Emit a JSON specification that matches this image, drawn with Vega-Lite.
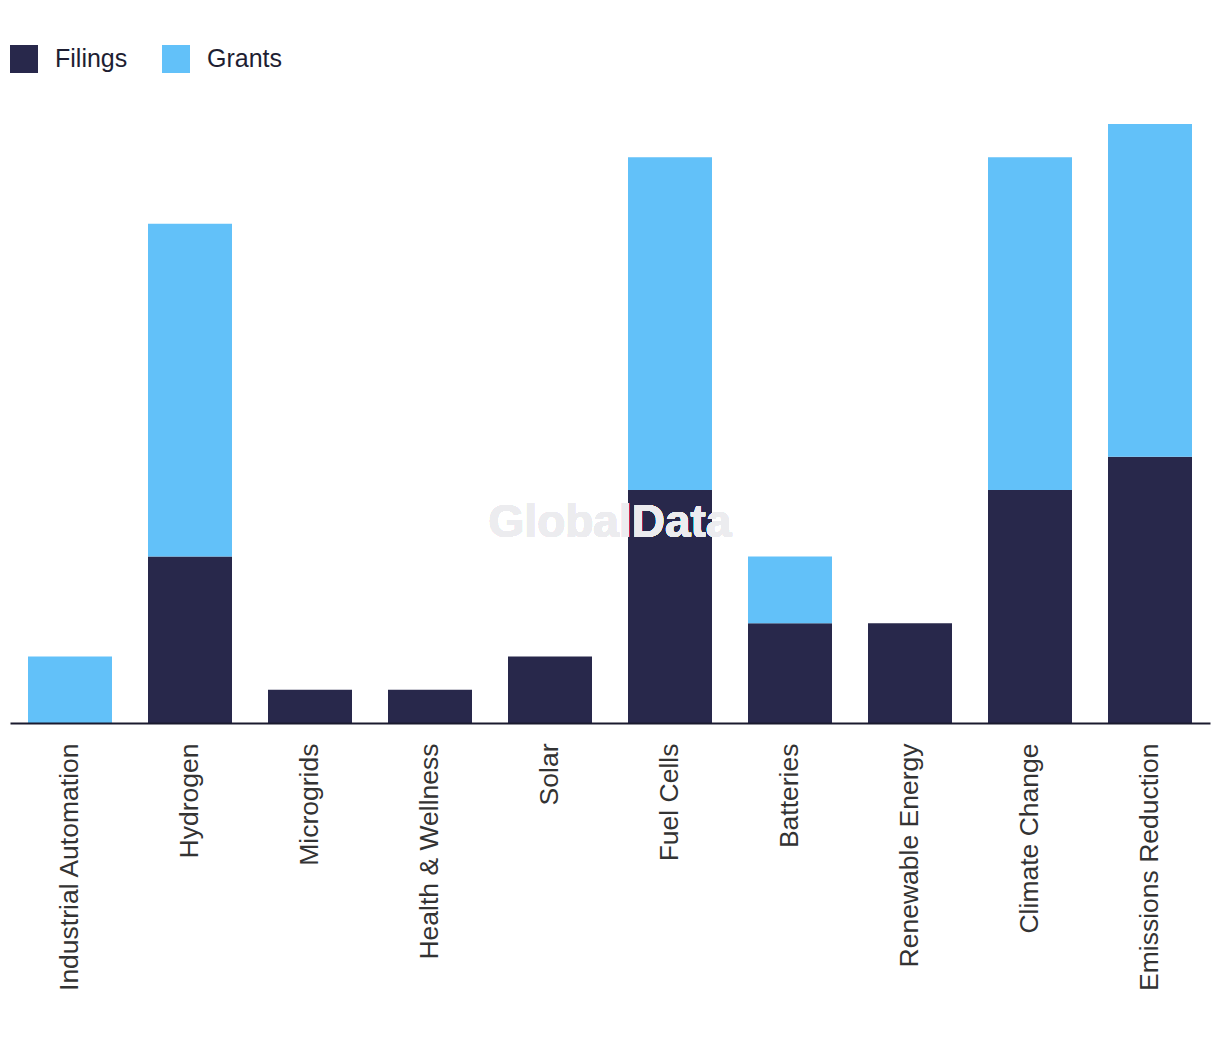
{
  "$schema": "https://vega.github.io/schema/vega-lite/v6.json",
  "width": 1200,
  "height": 599,
  "autosize": {"type": "none"},
  "padding": {"left": 10, "top": 124, "right": 10, "bottom": 319},
  "background": "white",
  "config": {
    "view": {"stroke": null},
    "font": "Liberation Sans"
  },
  "data": {
    "values": [
      {"category": "Industrial Automation", "type": "Filings", "value": 0},
      {"category": "Industrial Automation", "type": "Grants", "value": 2},
      {"category": "Hydrogen", "type": "Filings", "value": 5},
      {"category": "Hydrogen", "type": "Grants", "value": 10},
      {"category": "Microgrids", "type": "Filings", "value": 1},
      {"category": "Microgrids", "type": "Grants", "value": 0},
      {"category": "Health & Wellness", "type": "Filings", "value": 1},
      {"category": "Health & Wellness", "type": "Grants", "value": 0},
      {"category": "Solar", "type": "Filings", "value": 2},
      {"category": "Solar", "type": "Grants", "value": 0},
      {"category": "Fuel Cells", "type": "Filings", "value": 7},
      {"category": "Fuel Cells", "type": "Grants", "value": 10},
      {"category": "Batteries", "type": "Filings", "value": 3},
      {"category": "Batteries", "type": "Grants", "value": 2},
      {"category": "Renewable Energy", "type": "Filings", "value": 3},
      {"category": "Renewable Energy", "type": "Grants", "value": 0},
      {"category": "Climate Change", "type": "Filings", "value": 7},
      {"category": "Climate Change", "type": "Grants", "value": 10},
      {"category": "Emissions Reduction", "type": "Filings", "value": 8},
      {"category": "Emissions Reduction", "type": "Grants", "value": 10}
    ]
  },
  "layer": [
    {
      "mark": {"type": "bar"},
      "encoding": {
        "x": {
          "field": "category",
          "type": "nominal",
          "sort": null,
          "scale": {"paddingInner": 0.3, "paddingOuter": 0.15},
          "axis": {
            "title": null,
            "labelAngle": -90,
            "labelAlign": "right",
            "labelBaseline": "middle",
            "labelFontSize": 26.5,
            "labelColor": "#333333",
            "labelPadding": 20,
            "ticks": false,
            "domain": true,
            "domainColor": "#1a1a2e",
            "domainWidth": 2,
            "zindex": 1,
            "labelLimit": 400
          }
        },
        "y": {
          "field": "value",
          "type": "quantitative",
          "aggregate": "sum",
          "stack": "zero",
          "scale": {"domain": [0, 18], "nice": false},
          "axis": null
        },
        "color": {
          "field": "type",
          "type": "nominal",
          "scale": {"domain": ["Filings", "Grants"], "range": ["#28284b", "#62c1f9"]},
          "legend": {
            "title": null,
            "orient": "none",
            "legendX": 0,
            "legendY": -79,
            "direction": "horizontal",
            "symbolType": "square",
            "symbolSize": 784,
            "symbolStrokeWidth": 0,
            "labelFontSize": 25,
            "labelColor": "#1e1e32",
            "labelOffset": 17,
            "columnPadding": 34
          }
        },
        "order": {"field": "type", "sort": "ascending"}
      }
    },
    {
      "mark": {
        "type": "text",
        "text": "GlobalData",
        "fontSize": 46,
        "fontWeight": "bold",
        "dx": 60,
        "align": "center",
        "baseline": "middle"
      },
      "encoding": {
        "x": {"datum": "Solar"},
        "y": {"datum": 6},
        "color": {"value": "#ececef"}
      }
    }
  ]
}
